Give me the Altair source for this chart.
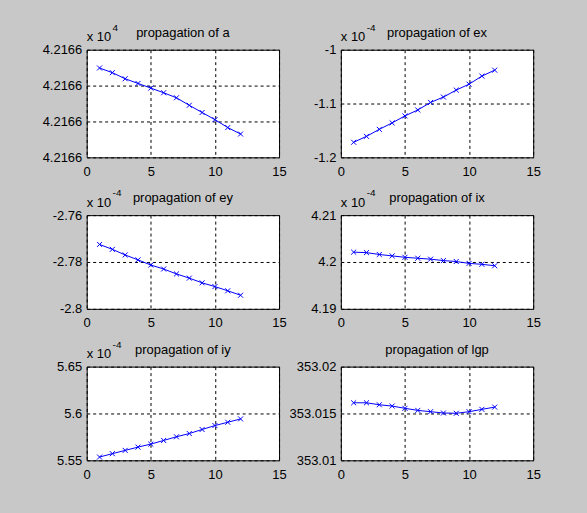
import altair as alt
import pandas as pd

# ---- data ----
steps = list(range(1, 13))

a_km = [42165.99949, 42165.99936, 42165.99919, 42165.99906, 42165.99893, 42165.99880,
        42165.99866, 42165.99845, 42165.99825, 42165.99805, 42165.99783, 42165.99765]
ex_e4 = [-1.172, -1.161, -1.148, -1.136, -1.123, -1.112,
         -1.098, -1.088, -1.075, -1.064, -1.049, -1.038]
ey_e4 = [-2.7725, -2.7746, -2.7770, -2.7791, -2.7813, -2.7830,
         -2.7851, -2.7869, -2.7889, -2.7905, -2.7923, -2.7942]
ix_e4 = [4.2021, 4.2020, 4.2016, 4.2013, 4.2010, 4.2008,
         4.2006, 4.2003, 4.2001, 4.1997, 4.1995, 4.1992]
iy_e4 = [5.5535, 5.5571, 5.5606, 5.5641, 5.5673, 5.5712,
         5.5751, 5.5786, 5.5829, 5.5871, 5.5906, 5.5942]
lgp = [353.01614, 353.01614, 353.01593, 353.01579, 353.01555, 353.01533,
       353.01519, 353.01505, 353.01502, 353.01519, 353.01544, 353.01568]

x_ticks = [0, 5, 10, 15]
a_ticks = [42165.997, 42165.998, 42165.999, 42166.0]
ex_ticks = [-1.2, -1.1, -1.0]
ey_ticks = [-2.8, -2.78, -2.76]
ix_ticks = [4.19, 4.2, 4.21]
iy_ticks = [5.55, 5.6, 5.65]
lgp_ticks = [353.01, 353.015, 353.02]

titles = ["propagation of a", "propagation of ex", "propagation of ey",
          "propagation of ix", "propagation of iy", "propagation of lgp"]
exponents = ["4", "-4", "-4", "-4", "-4", ""]

W = 193
BLUE = "#0000ff"
FONT = "Liberation Sans"
X_SHAPE = "M-1,-1L1,1M-1,1L1,-1"


def panel(title, vals, y_ticks, label_expr, exponent, h):
    df = pd.DataFrame({"step": steps, "v": vals})
    x = alt.X("step:Q",
              scale=alt.Scale(domain=[0, 15], nice=False, zero=False),
              axis=alt.Axis(values=x_ticks, title=None, labelPadding=8,
                            labelFlush=False))
    y = alt.Y("v:Q",
              scale=alt.Scale(domain=[y_ticks[0], y_ticks[-1]], nice=False, zero=False),
              axis=alt.Axis(values=y_ticks, title=None, labelExpr=label_expr,
                            labelPadding=5, labelFlush=False))
    base = alt.Chart(df).encode(x=x, y=y)
    line = base.mark_line(color=BLUE, strokeWidth=1)
    pts = base.mark_point(shape=X_SHAPE, size=25, color=BLUE, strokeWidth=1,
                          filled=False, opacity=1)
    tdf = pd.DataFrame({"t": [title]})
    ttl = alt.Chart(tdf).mark_text(align="center", baseline="alphabetic",
                                   fontSize=13, font=FONT, color="black").encode(
        text="t:N", x=alt.value(W / 2), y=alt.value(-13))
    layers = [line, pts, ttl]
    if exponent:
        mdf = pd.DataFrame({"t": ["x 10"], "e": [exponent]})
        m1 = alt.Chart(mdf).mark_text(align="left", baseline="alphabetic",
                                      fontSize=13, font=FONT, color="black").encode(
            text="t:N", x=alt.value(0), y=alt.value(-8.5))
        m2 = alt.Chart(mdf).mark_text(align="left", baseline="alphabetic",
                                      fontSize=10, font=FONT, color="black").encode(
            text="e:N", x=alt.value(26), y=alt.value(-19))
        layers += [m1, m2]
    return alt.layer(*layers).properties(width=W, height=h)


num_expr = "'' + datum.value"
panels = [
    panel(titles[0], a_km, a_ticks, "'4.2166'", exponents[0], 108),
    panel(titles[1], ex_e4, ex_ticks, num_expr, exponents[1], 108),
    panel(titles[2], ey_e4, ey_ticks, num_expr, exponents[2], 94),
    panel(titles[3], ix_e4, ix_ticks, num_expr, exponents[3], 94),
    panel(titles[4], iy_e4, iy_ticks, num_expr, exponents[4], 94),
    panel(titles[5], lgp, lgp_ticks, num_expr, exponents[5], 94),
]

chart = alt.ConcatChart(
    concat=panels, columns=2, bounds="flush",
    spacing={"row": 58, "column": 62},
).properties(
    padding={"left": 41, "top": 21, "right": 46, "bottom": 32},
    background="#c8c8c8",
).configure_view(
    fill="white", stroke="black", strokeWidth=1,
).configure_axis(
    domain=False, ticks=False,
    grid=True, gridColor="black", gridDash=[3, 3], gridWidth=1, gridOpacity=1,
    labelFont=FONT, labelFontSize=13, labelColor="black",
).configure_text(font=FONT)

chart.save("out.html", embed_options={"renderer": "svg", "actions": False})
